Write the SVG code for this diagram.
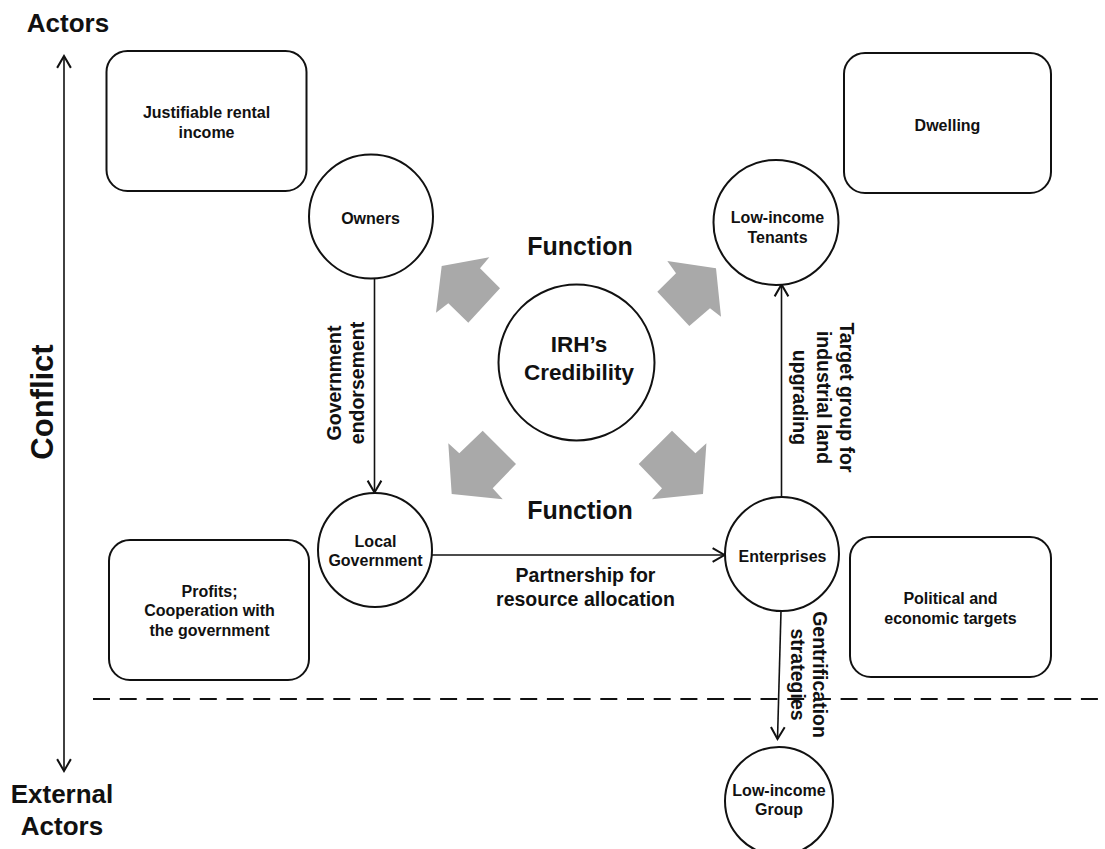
<svg xmlns="http://www.w3.org/2000/svg" width="1105" height="849" viewBox="0 0 1105 849">
<style>
text{font-family:"Liberation Sans",Arial,sans-serif;font-weight:bold;fill:#111;text-anchor:middle}
.t16{font-size:16px}
.t19{font-size:19.5px}
.big{font-size:26px}
.node{fill:#fff;stroke:#111;stroke-width:2}
.line{fill:none;stroke:#111;stroke-width:1.6}
.gray{fill:#a9a9a9}
</style>
<defs>
<marker id="chev" markerUnits="userSpaceOnUse" markerWidth="20" markerHeight="20" refX="0" refY="0" viewBox="-12 -8 14 16" orient="auto-start-reverse">
<path d="M-9.5,-5.5 L0,0 L-9.5,5.5" fill="none" stroke="#111" stroke-width="1.6"/>
</marker>
</defs>
<rect width="1105" height="849" fill="#fff"/>

<g id="axis-labels">
<text class="big" x="68" y="31.5">Actors</text>
<text class="big" x="62" y="803">External</text>
<text class="big" x="62" y="835">Actors</text>
<text x="0" y="0" style="font-size:31px" transform="translate(53,402) rotate(-90)">Conflict</text>
</g>

<g id="connectors">
<line class="line" x1="64" y1="56" x2="64" y2="771" marker-start="url(#chev)" marker-end="url(#chev)"/>
<line x1="93" y1="699" x2="1105" y2="699" stroke="#111" stroke-width="2" stroke-dasharray="17 9.7"/>
<line class="line" x1="374.5" y1="279" x2="374.5" y2="492.5" marker-end="url(#chev)"/>
<line class="line" x1="432" y1="555" x2="724.5" y2="555" marker-end="url(#chev)"/>
<line class="line" x1="781.5" y1="497" x2="781.5" y2="284.5" marker-end="url(#chev)"/>
<line class="line" x1="781" y1="611" x2="777.5" y2="739" marker-end="url(#chev)"/>
<text class="t19" transform="translate(340.5,383) rotate(-90)"><tspan x="0" y="0">Government</tspan><tspan x="0" y="23">endorsement</tspan></text>
<text class="t19" transform="translate(840,397.5) rotate(90)"><tspan x="0" y="0">Target group for</tspan><tspan x="0" y="23.3">industrial land</tspan><tspan x="0" y="46.6">upgrading</tspan></text>
<text class="t19"><tspan x="585.5" y="581.5">Partnership for</tspan><tspan x="585.5" y="605.5">resource allocation</tspan></text>
<text class="t19" transform="translate(812.5,674.5) rotate(90)"><tspan x="0" y="0">Gentrification</tspan><tspan x="0" y="22">strategies</tspan></text>
</g>

<g id="function-arrows">
<polygon class="gray" points="441.7,266 489.3,257.3 480,268.3 500,288.3 468.3,322.7 448.3,303.3 436,312.7"/>
<polygon class="gray" points="667.3,261 716,268.3 721,316.7 710,308.3 689.3,326 657.3,291.7 676,273.3"/>
<polygon class="gray" points="448.3,443.3 459.3,453.3 482.7,430.7 516,464 492.7,488.3 502.7,499.3 451.7,494"/>
<polygon class="gray" points="706.4,443.3 695.4,453.3 672,430.7 638.7,464 662,488.3 652,499.3 703,494"/>
<text style="font-size:25px" x="580" y="255">Function</text>
<text style="font-size:25px" x="580" y="519">Function</text>
</g>

<g id="irh">
<circle class="node" cx="576.5" cy="362.5" r="78"/>
<text style="font-size:22.5px"><tspan x="579" y="351.5">IRH’s</tspan><tspan x="579" y="379.5">Credibility</tspan></text>
</g>

<g id="owners">
<circle class="node" cx="371" cy="216.5" r="62"/>
<text class="t16" x="370.5" y="224">Owners</text>
</g>

<g id="tenants">
<circle class="node" cx="776" cy="222.5" r="62.5"/>
<text class="t16"><tspan x="777.5" y="222.5">Low-income</tspan><tspan x="777.5" y="242.5">Tenants</tspan></text>
</g>

<g id="local-government">
<circle class="node" cx="375" cy="550" r="57"/>
<text class="t16"><tspan x="375.5" y="546.5">Local</tspan><tspan x="375.5" y="566">Government</tspan></text>
</g>

<g id="enterprises">
<circle class="node" cx="782" cy="554" r="57"/>
<text class="t16" x="782.5" y="561.5">Enterprises</text>
</g>

<g id="low-income-group">
<circle class="node" cx="779" cy="801" r="54"/>
<text class="t16"><tspan x="779" y="795.5">Low-income</tspan><tspan x="779" y="815">Group</tspan></text>
</g>

<g id="box-rental">
<rect class="node" x="106.5" y="51" width="200" height="140" rx="21"/>
<text class="t16"><tspan x="206.5" y="118">Justifiable rental</tspan><tspan x="206.5" y="138">income</tspan></text>
</g>

<g id="box-dwelling">
<rect class="node" x="844" y="53" width="207" height="140" rx="21"/>
<text class="t16" x="947.5" y="130.5">Dwelling</text>
</g>

<g id="box-profits">
<rect class="node" x="109" y="540" width="200" height="140" rx="21"/>
<text class="t16"><tspan x="209.5" y="596.5">Profits;</tspan><tspan x="209.5" y="616">Cooperation with</tspan><tspan x="209.5" y="636">the government</tspan></text>
</g>

<g id="box-political">
<rect class="node" x="850" y="537" width="201" height="140" rx="21"/>
<text class="t16"><tspan x="950.5" y="604">Political and</tspan><tspan x="950.5" y="624">economic targets</tspan></text>
</g>
</svg>
